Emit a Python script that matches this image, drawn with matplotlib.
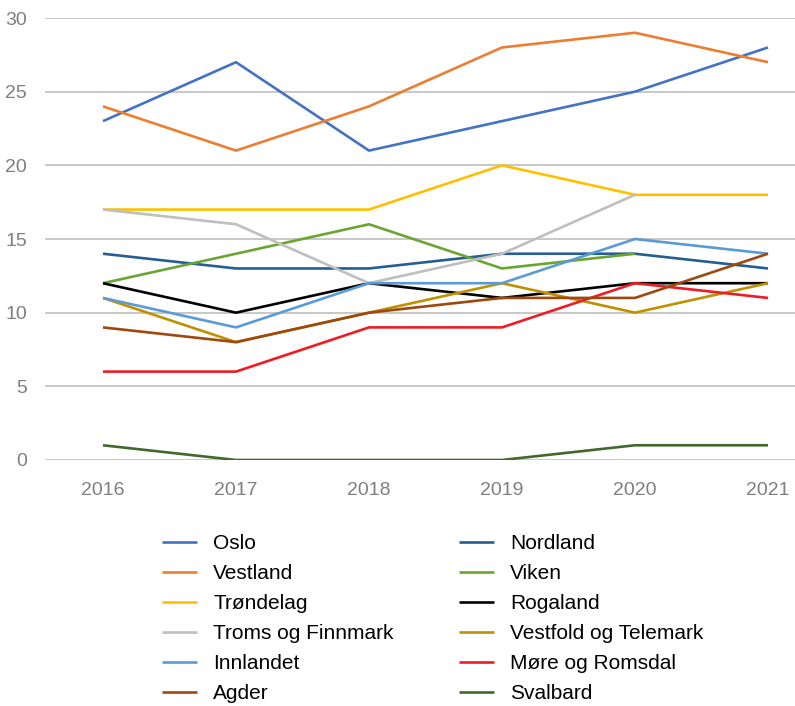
import numpy as np
import matplotlib.pyplot as plt

plt.rcParams['font.family'] = ['Liberation Sans', 'DejaVu Sans']

years = [2016, 2017, 2018, 2019, 2020, 2021]
nan = np.nan

oslo = [23, 27, 21, 23, 25, 28]
nordland = [14, 13, 13, 14, 14, 13]
vestland = [24, 21, 24, 28, 29, 27]
viken = [12, 14, 16, 13, 14, nan]
trondelag = [17, 17, 17, 20, 18, 18]
rogaland = [12, 10, 12, 11, 12, 12]
troms = [17, 16, 12, 14, 18, nan]
vestfold = [11, 8, 10, 12, 10, 12]
innlandet = [11, 9, 12, 12, 15, 14]
more = [6, 6, 9, 9, 12, 11]
agder = [9, 8, 10, 11, 11, 14]
svalbard = [1, 0, 0, 0, 1, 1]

# drawing order (later on top), as in the original
series = [
    ("Oslo", oslo, "#4472C4"),
    ("Nordland", nordland, "#255E91"),
    ("Vestland", vestland, "#ED7D31"),
    ("Viken", viken, "#6AA532"),
    ("Trøndelag", trondelag, "#FFC000"),
    ("Rogaland", rogaland, "#000000"),
    ("Troms og Finnmark", troms, "#BFBFBF"),
    ("Vestfold og Telemark", vestfold, "#BF9000"),
    ("Innlandet", innlandet, "#5B9BD5"),
    ("Møre og Romsdal", more, "#EE1C24"),
    ("Agder", agder, "#9E480E"),
    ("Svalbard", svalbard, "#43682B"),
]

fig = plt.figure(figsize=(7.95, 7.06), dpi=100)
ax = fig.add_axes([45/795, (706-460)/706, 750/795, 442/706])

lines = {}
for name, vals, col in series:
    ln, = ax.plot(years, vals, color=col, lw=1.9, solid_capstyle='butt')
    lines[name] = ln

ax.set_xlim(2016 - 58/133, 2021 + 27/133)
ax.set_ylim(0, 30)
ax.set_yticks(range(0, 31, 5))
ax.set_xticks(years)
ax.yaxis.grid(True, color='#BFBFBF', lw=1.2)
ax.set_axisbelow(True)
for s in ax.spines.values():
    s.set_visible(False)
ax.tick_params(length=0, colors='#7F7F7F', labelsize=14)
ax.tick_params(axis='y', pad=13)
ax.tick_params(axis='x', pad=16)

col1 = ["Oslo", "Vestland", "Trøndelag", "Troms og Finnmark", "Innlandet", "Agder"]
col2 = ["Nordland", "Viken", "Rogaland", "Vestfold og Telemark", "Møre og Romsdal", "Svalbard"]
kw = dict(frameon=False, fontsize=15, handlelength=1.7, handletextpad=0.75,
          labelspacing=0.53, borderpad=0, borderaxespad=0, loc='upper left')
fig.legend([lines[n] for n in col1], col1, bbox_to_anchor=(162/795, 1 - 534/706), **kw)
fig.legend([lines[n] for n in col2], col2, bbox_to_anchor=(459/795, 1 - 534/706), **kw)

fig.savefig('out.png', dpi=100)
